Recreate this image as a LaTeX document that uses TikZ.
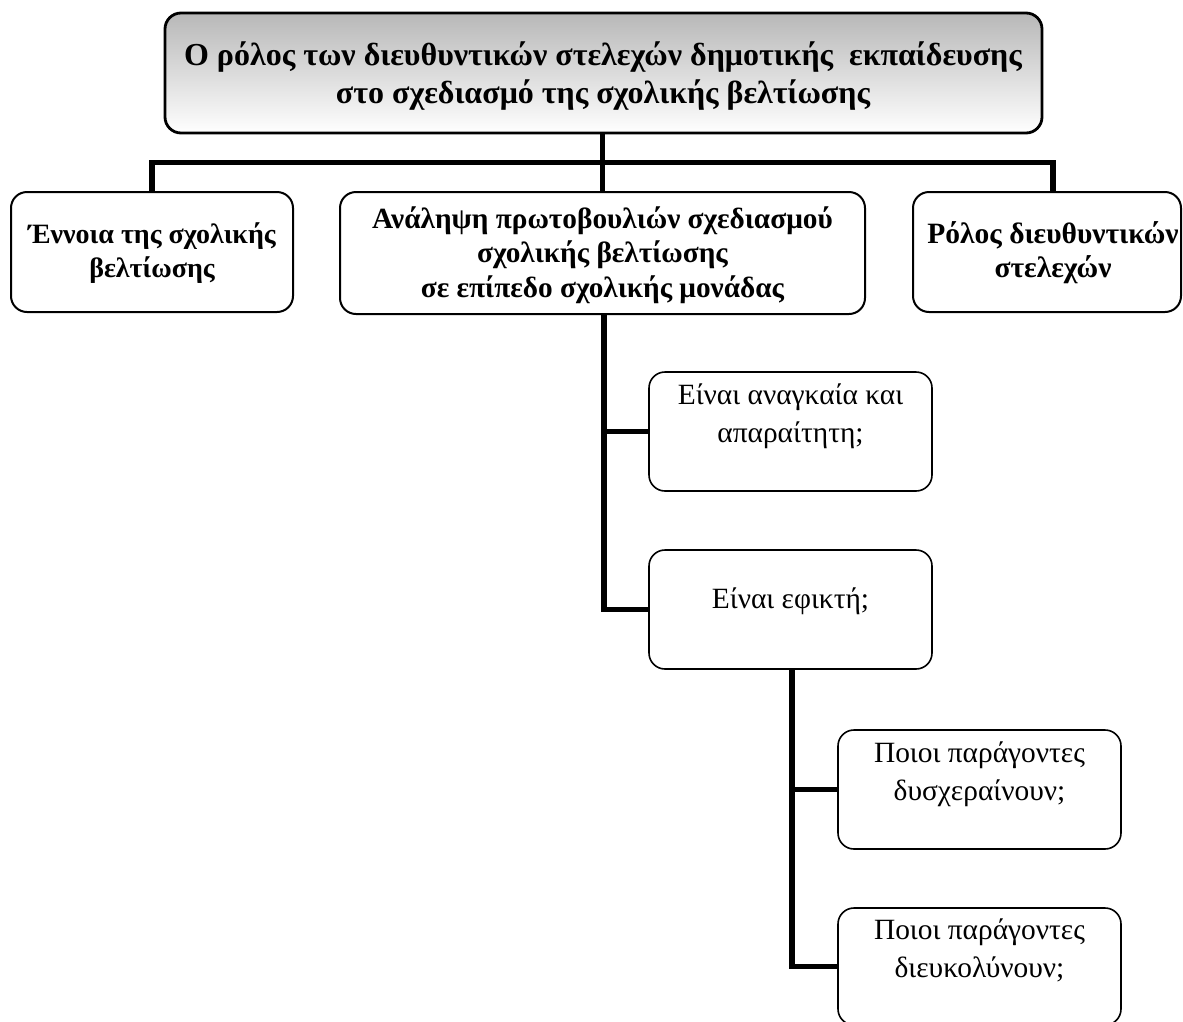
\documentclass[tikz,border=0pt]{standalone}
\usepackage{fontspec}
\setmainfont{Liberation Serif}
\begin{document}
\begin{tikzpicture}[x=1pt,y=-1pt,
  box/.style={draw=black, line width=1.7pt, rounded corners=16pt, fill=white, inner sep=0pt},
  conn/.style={draw=black, line width=5.5pt, line cap=butt, line join=miter},
  boldtxt/.style={align=center, inner sep=0pt, anchor=base},
  regtxt/.style={font=\fontsize{29.4}{37.5}\selectfont, align=center, inner sep=0pt, anchor=base}]
\useasboundingbox (0,0) rectangle (1183,1021);

% title
\node[box, line width=2.8pt, top color=black!28, bottom color=white,
      minimum width=877pt, minimum height=120pt] (title) at (603.5,73) {};
\node[boldtxt, font=\fontsize{32}{38}\selectfont\bfseries] (titlet) at (603,103) {Ο ρόλος των διευθυντικών στελεχών δημοτικής \ εκπαίδευσης\\στο σχεδιασμό της σχολικής βελτίωσης};

% first row
\node[box, line width=2pt, minimum width=282pt, minimum height=120pt] (b1) at (152,252) {};
\node[box, line width=2pt, minimum width=525pt, minimum height=122pt] (b2) at (602.5,253) {};
\node[box, line width=2pt, minimum width=268pt, minimum height=120pt] (b3) at (1047,252) {};
\node[boldtxt, font=\fontsize{28}{34}\selectfont\bfseries] (b1t) at (152,277) {Έννοια της σχολικής\\βελτίωσης};
\node[boldtxt, font=\fontsize{29.3}{34.5}\selectfont\bfseries] (b2t) at (602.5,297) {Ανάληψη πρωτοβουλιών σχεδιασμού\\σχολικής βελτίωσης\\σε επίπεδο σχολικής μονάδας};
\node[boldtxt, font=\fontsize{29.5}{34}\selectfont\bfseries] (b3t) at (1053,277) {Ρόλος διευθυντικών\\στελεχών};

% children
\node[box, line width=1.6pt, minimum width=283pt, minimum height=119pt] (c1) at (790.5,431.5) {};
\node[box, line width=1.6pt, minimum width=283pt, minimum height=119pt] (c2) at (790.5,609.5) {};
\node[box, line width=1.6pt, minimum width=283pt, minimum height=119pt] (c3) at (979.5,789.5) {};
\node[box, line width=1.6pt, minimum width=283pt, minimum height=117pt] (c4) at (979.5,966.5) {};
\node[regtxt] (c1t) at (790.5,442) {Είναι αναγκαία και\\απαραίτητη;};
\node[regtxt] (c2t) at (790.5,608) {Είναι εφικτή;};
\node[regtxt] (c3t) at (979.5,800) {Ποιοι παράγοντες\\δυσχεραίνουν;};
\node[regtxt] (c4t) at (979.5,977) {Ποιοι παράγοντες\\διευκολύνουν;};

% connectors
\coordinate (barl) at (152,162.5);
\draw[conn] (b2.north |- title.south) -- (b2.north);
\draw[conn] (b1.north) -- (b1.north |- barl) -- ([xshift=6pt]b3.north |- barl) -- ([xshift=6pt]b3.north);
\draw[conn] ([xshift=1.5pt]b2.south) -- ([xshift=1.5pt]b2.south |- c2.west) -- (c2.west);
\draw[conn] ([xshift=1.5pt]b2.south |- c1.west) -- (c1.west);
\draw[conn] ([xshift=1.5pt]c2.south) -- ([xshift=1.5pt]c2.south |- c4.west) -- (c4.west);
\draw[conn] ([xshift=1.5pt]c2.south |- c3.west) -- (c3.west);
\end{tikzpicture}
\end{document}
